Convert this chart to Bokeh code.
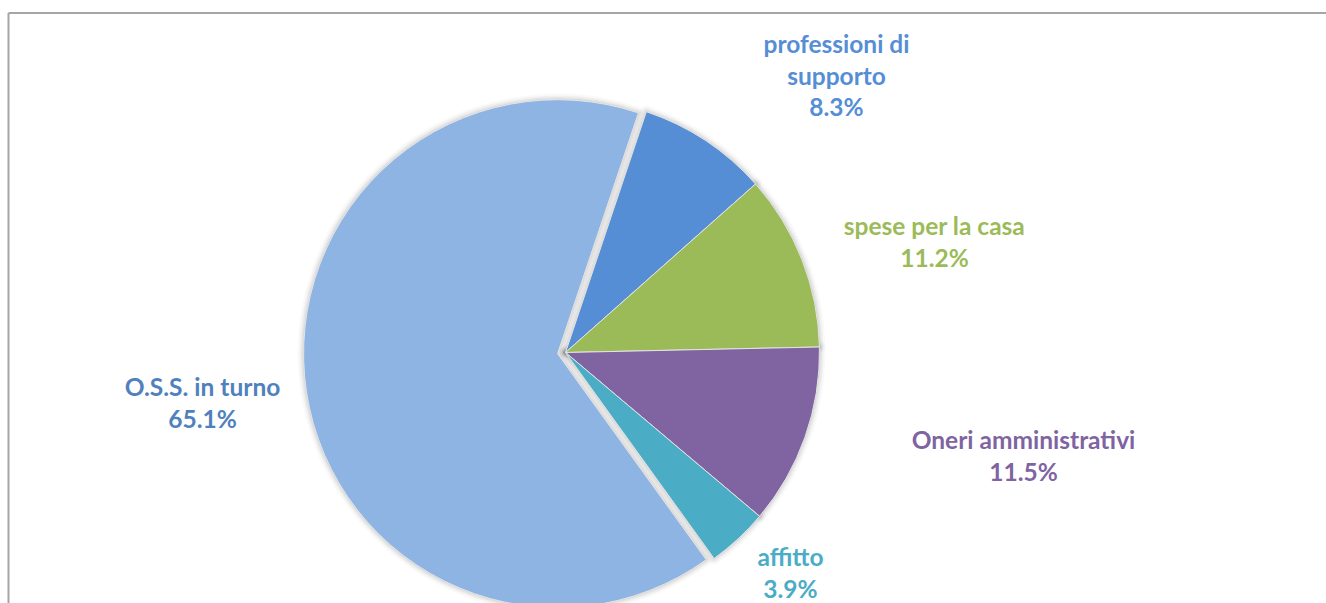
import math
from bokeh.plotting import figure
from bokeh.models import Range1d
from bokeh.core.properties import value
from bokeh.embed import file_html
from bokeh.resources import INLINE

# ---- data ----
categories = ["O.S.S. in turno", "professioni di supporto", "spese per la casa",
              "Oneri amministrativi", "affitto"]
percent = [65.1, 8.3, 11.2, 11.5, 3.9]

# ---- style / layout ----
slice_colors = ["#8EB4E3", "#558ED5", "#9BBB59", "#8064A2", "#4BACC6"]
label_colors = ["#4F81BD", "#558ED5", "#9BBB59", "#8064A2", "#4BACC6"]
label_wrap = {"professioni di supporto": ["professioni di", "supporto"]}
explode = [8, 0, 0, 0, 0]
first_angle = 144.2          # clockwise from 12 o'clock, degrees
W, H = 1326, 603
cx, cy_img, R = 565, 352, 254
# label first-line centres (page pixels)
label_xy = [(202, 386), (836, 43), (934, 225), (1023, 439), (790, 556)]
line_gap = 31.5
FONT = "Lato"
FS = "24.5px"

p = figure(width=W, height=H, output_backend="svg", toolbar_location=None,
           x_range=Range1d(0, W), y_range=Range1d(0, H), min_border=0)
p.axis.visible = False
p.grid.visible = False
p.outline_line_color = None
p.background_fill_color = "white"
p.border_fill_color = "white"

def Y(yi):
    return H - yi

# frame border (top and left edges visible)
p.line(x=[8, W], y=[Y(12.5), Y(12.5)], line_color="#A6A6A6", line_width=2)
p.line(x=[8, 8], y=[Y(12.5), Y(H)], line_color="#A6A6A6", line_width=2)

total = sum(percent)
geo = []
a = first_angle
for v, e in zip(percent, explode):
    span = v / total * 360.0
    mid = a + span / 2
    dx = e * math.sin(math.radians(mid))
    dy = e * math.cos(math.radians(mid))
    x0, y0 = cx + dx, Y(cy_img) + dy
    start = math.radians(90 - (a + span))
    end = math.radians(90 - a)
    geo.append((x0, y0, start, end))
    a += span

# soft shadow
for lw, al in [(12, 0.025), (8, 0.035), (5, 0.045), (2, 0.06)]:
    for (x0, y0, s, en) in geo:
        p.wedge(x=x0, y=y0, radius=R, start_angle=s, end_angle=en,
                fill_color=None, line_color="black", line_alpha=al, line_width=lw,
                line_join="round")

for (x0, y0, s, en), col in zip(geo, slice_colors):
    p.wedge(x=x0, y=y0, radius=R, start_angle=s, end_angle=en,
            fill_color=col, line_color="#E4E4E4", line_width=1)

for cat, v, col, (lx, ly) in zip(categories, percent, label_colors, label_xy):
    lines = label_wrap.get(cat, [cat]) + [f"{v:.1f}%"]
    for i, t in enumerate(lines):
        p.text(x=[lx], y=[Y(ly + i * line_gap)], text=[t], text_color=col,
               text_font=value(FONT), text_font_style="bold", text_font_size=FS,
               text_align="center", text_baseline="middle")

open("out.html", "w").write(file_html(p, INLINE))
